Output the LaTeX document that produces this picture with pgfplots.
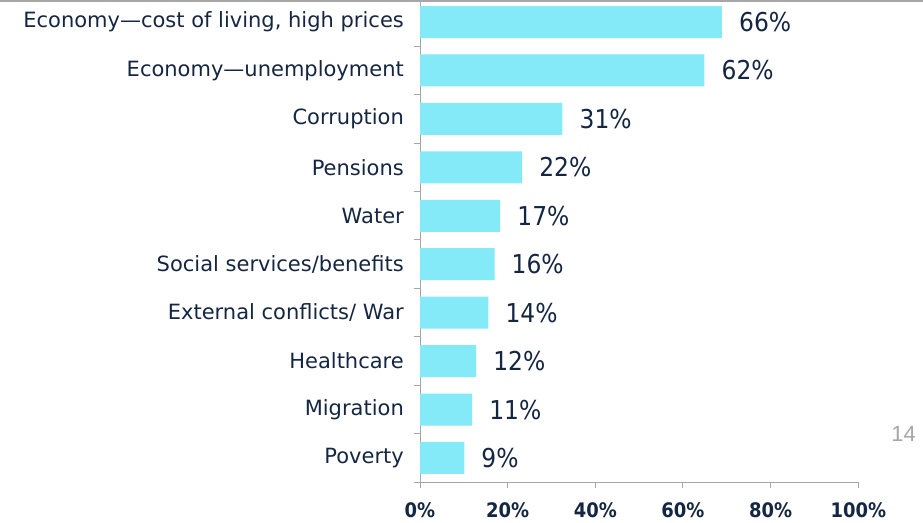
\documentclass[border=0pt]{standalone}
\usepackage{pgfplots}
\pgfplotsset{compat=1.18}
\usepackage{pgfplotstable}
\usepackage{fontspec}
\setmainfont{DejaVu Sans Condensed}
\newfontfamily\catfont{DejaVu Sans}
\newfontfamily\numfont{Liberation Sans}
\definecolor{barc}{RGB}{132,234,248}
\definecolor{navy}{RGB}{20,38,66}
\definecolor{axgrey}{RGB}{166,166,166}
\pgfplotstableread{
y v lab
0 10.1 9
1 11.9 11
2 12.8 12
3 15.6 14
4 17.0 16
5 18.3 17
6 23.3 22
7 32.5 31
8 64.9 62
9 68.9 66
}\data
\begin{document}
\begin{tikzpicture}
\path[use as bounding box] (0pt,0pt) rectangle (923pt,522pt);
\clip (0pt,0pt) rectangle (923pt,522pt);
\draw[axgrey, line width=5pt] (0pt,522pt) -- (923pt,522pt);
\node[font=\numfont\fontsize{22}{22}\selectfont, text=axgrey] at (903.5pt,88.5pt) {14};
\begin{axis}[
  at={(420pt,39.8pt)}, anchor=south west, scale only axis,
  width=438.3pt, height=484.4pt,
  xmin=0, xmax=100, ymin=-0.5, ymax=9.5,
  axis x line*=bottom, axis y line*=left,
  axis line style={axgrey, line width=1pt},
  tick align=outside, major tick length=6pt,
  tick style={axgrey, line width=1pt},
  xtick={0,20,40,60,80,100},
  xticklabels={0\%,20\%,40\%,60\%,80\%,100\%},
  xticklabel style={font=\bfseries\fontsize{20}{20}\selectfont, text=navy, inner sep=0pt, anchor=north, yshift=-14pt},
  ytick={-0.5,0.5,...,9.5},
  yticklabels={},
  extra y ticks={0,1,2,3,4,5,6,7,8,9},
  extra y tick labels={Poverty,Migration,Healthcare,External conflicts/ War,Social services/benefits,Water,Pensions,Corruption,Economy—unemployment,{Economy—cost of living, high prices}},
  extra y tick style={major tick length=0pt, tick style={draw=none},
    yticklabel style={font=\catfont\fontsize{21}{21}\selectfont, text=navy, inner sep=0pt, anchor=east, xshift=-16pt}},
  clip=false,
]
\addplot[xbar, bar width=32pt, fill=barc, draw=none,
  point meta=explicit symbolic,
  nodes near coords={\pgfplotspointmeta\%},
  every node near coord/.append style={anchor=west, inner sep=0pt, xshift=17pt, font=\fontsize{26}{26}\selectfont, text=navy}]
  table[x=v, y=y, meta=lab] {\data};
\end{axis}
\end{tikzpicture}
\end{document}
